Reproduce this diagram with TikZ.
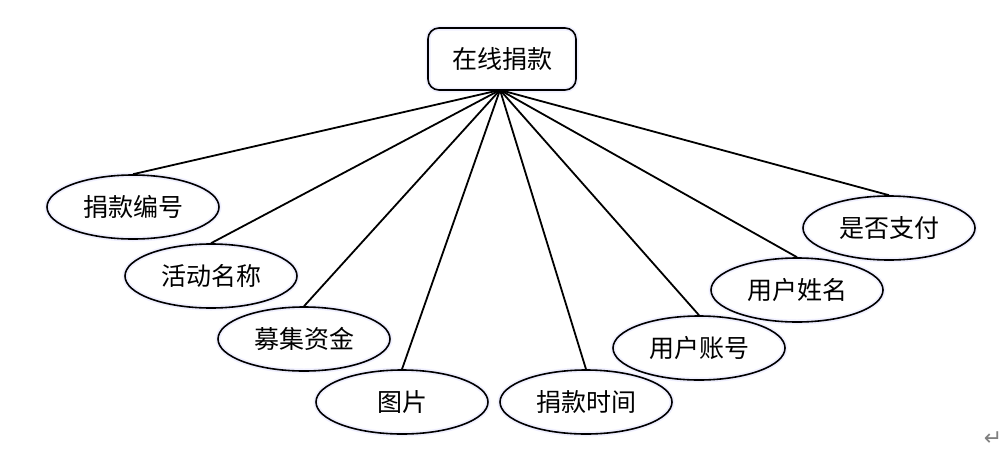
\documentclass[tikz,border=0pt]{standalone}
\usepackage{fontspec}
\newfontfamily\cjk{Noto Sans CJK SC}
\newfontfamily\dejavu{DejaVu Sans}
\usetikzlibrary{shapes.geometric}
\begin{document}
\begin{tikzpicture}[x=1pt,y=-1pt,
  attr/.style={ellipse,draw,line width=1.6pt,minimum width=172pt,minimum height=64pt,inner sep=0pt,font=\cjk\fontsize{25}{25}\selectfont,
    preaction={draw=blue!6,line width=5pt}},
  ent/.style={rectangle,rounded corners=11pt,draw,line width=1.6pt,minimum width=148pt,minimum height=62pt,inner sep=0pt,font=\cjk\fontsize{25}{25}\selectfont,
    preaction={draw=blue!6,line width=5pt}},
  link/.style={line width=1.8pt}]
\useasboundingbox (0,0) rectangle (1008,461);
\node[ent] (e) at (502,59) {在线捐款};
\coordinate (hub) at (500,90);
\node[attr] (a1) at (133,207) {捐款编号};
\node[attr] (a2) at (211,276) {活动名称};
\node[attr] (a3) at (304,339) {募集资金};
\node[attr] (a4) at (402,402) {图片};
\node[attr] (a5) at (586,402) {捐款时间};
\node[attr] (a6) at (699,348) {用户账号};
\node[attr] (a7) at (797,290) {用户姓名};
\node[attr] (a8) at (889,228) {是否支付};
\foreach \n in {a1,a2,a3,a4,a5,a6,a7,a8}
  \draw[link] (hub) -- (\n.north);
\node[font=\dejavu\fontsize{22}{22}\selectfont,text=gray] (ret) at (993,439) {↵};
\end{tikzpicture}
\end{document}
